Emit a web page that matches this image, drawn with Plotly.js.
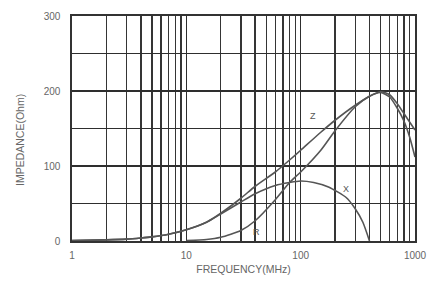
<!DOCTYPE html>
<html><head><meta charset="utf-8">
<script src="https://cdn.plot.ly/plotly-3.0.1.min.js"></script>
<style>html,body{margin:0;padding:0;background:#fff}</style>
</head><body><div id="chart" style="width:430px;height:287px"></div>
<script>
var freqZ = [1, 2, 3, 4, 5, 7, 10, 15, 20, 30, 40, 60, 80, 100, 150, 200, 300, 400, 500, 600, 700, 800, 1000];
var zVals = [0.5, 1.5, 2.5, 4, 5.5, 9, 15, 25, 37, 57, 73, 92, 108, 121, 145, 161, 181, 193, 199, 195, 183, 170, 148];
var freqR = [10, 15, 20, 30, 40, 60, 80, 100, 150, 200, 300, 400, 500, 600, 700, 800, 900, 1000];
var rVals = [0.5, 2, 5, 14, 27, 55, 78, 92, 121, 147, 179, 193, 198, 192, 177, 160, 138, 112];
var freqX = [1, 2, 3, 4, 5, 7, 10, 15, 20, 30, 40, 60, 80, 100, 130, 175, 250, 300, 350, 400];
var xVals = [0.5, 1.5, 2.5, 4, 5.5, 9, 15, 25, 36, 52, 63, 74, 78, 80, 78, 72, 58, 43, 25, 0];
var xTickVals = [1, 10, 100, 1000];
var xTickText = ['1', '10', '100', '1000'];
var yTickVals = [0, 100, 200, 300];
var curveLabels = ['Z', 'X', 'R'];
var labelFreqs = [128, 250, 41];
var labelVals = [167, 70, 12];

var minorX = [];
[1, 10, 100].forEach(function (d) { for (var k = 2; k <= 9; k++) minorX.push(k * d); });

var FONT = 'Liberation Sans, Arial, sans-serif';
var lineStyle = {color: '#555', width: 1.6, shape: 'spline', smoothing: 0.6};
var traces = [
  {x: freqZ, y: zVals, mode: 'lines', line: lineStyle, hoverinfo: 'none'},
  {x: freqR, y: rVals, mode: 'lines', line: lineStyle, hoverinfo: 'none'},
  {x: freqX, y: xVals, mode: 'lines', line: lineStyle, hoverinfo: 'none'}
];
var ann = curveLabels.map(function (t, i) {
  return {x: Math.log10(labelFreqs[i]), y: labelVals[i], xref: 'x', yref: 'y', text: t, showarrow: false,
    font: {family: FONT, size: 9, color: '#555'}};
});
ann.push({x: (12 - 72) / 343, y: (241 - 140) / 225, xref: 'paper', yref: 'paper', text: 'IMPEDANCE(Ohm)',
  showarrow: false, textangle: -90, font: {family: FONT, size: 10.5, color: '#666'}});
var layout = {
  width: 430, height: 287,
  margin: {l: 72, r: 15, t: 16, b: 46},
  paper_bgcolor: '#fff', plot_bgcolor: '#fff',
  showlegend: false,
  font: {family: FONT, size: 10, color: '#666'},
  xaxis: {
    type: 'log', range: [0, 3], tickmode: 'array', tickvals: xTickVals, ticktext: xTickText,
    showgrid: true, gridcolor: '#2e2e2e', gridwidth: 1.4, ticks: '', ticklabelstandoff: 4,
    showline: true, mirror: true, linecolor: '#333', linewidth: 1.6, zeroline: false,
    minor: {tickmode: 'array', tickvals: minorX, showgrid: true, gridcolor: '#353535', gridwidth: 1.4, ticks: ''},
    title: {text: 'FREQUENCY(MHz)', standoff: 6, font: {family: FONT, size: 10.5, color: '#666'}},
    tickfont: {family: FONT, size: 10, color: '#666'}
  },
  yaxis: {
    range: [0, 300], tickmode: 'array', tickvals: yTickVals,
    showgrid: true, gridcolor: '#2e2e2e', gridwidth: 1.4, ticks: '', zeroline: false,
    showline: true, mirror: true, linecolor: '#333', linewidth: 1.6,
    minor: {dtick: 50, showgrid: true, gridcolor: '#2e2e2e', gridwidth: 1.4, ticks: ''},
    tickfont: {family: FONT, size: 10, color: '#666'}, ticklabelstandoff: 8
  },
  annotations: ann
};
Plotly.newPlot('chart', traces, layout, {staticPlot: true, displayModeBar: false});
</script></body></html>
